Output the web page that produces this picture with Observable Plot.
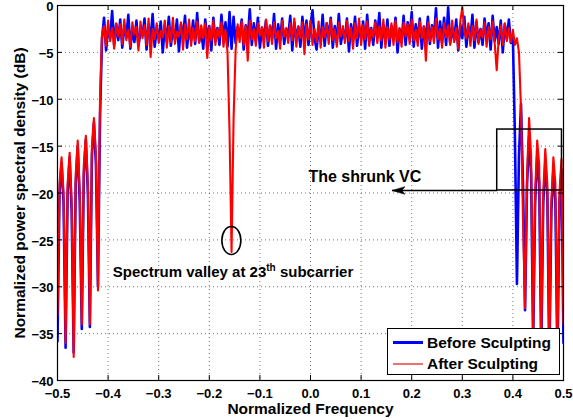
<!DOCTYPE html>
<html><head><meta charset="utf-8">
<script src="https://cdn.jsdelivr.net/npm/d3@7"></script>
<script src="https://cdn.jsdelivr.net/npm/@observablehq/plot@0.6"></script>
<style>
body{margin:0;background:#fff;}
#wrap{position:relative;width:573px;height:420px;font-family:"Liberation Sans",Arial,Helvetica,sans-serif;font-weight:bold;}
.legend{position:absolute;left:387px;top:328px;width:173px;height:47px;border:1px solid #000;background:#fff;box-sizing:border-box;}
.legend .ln{position:absolute;left:5px;width:30px;}
.legend .tx{position:absolute;left:39px;font-size:15.5px;line-height:15px;white-space:nowrap;color:#000;}
</style></head><body><div id="wrap"></div>
<script>
// ---------- data ----------
const xTicks = [-0.5, -0.4, -0.3, -0.2, -0.1, 0, 0.1, 0.2, 0.3, 0.4, 0.5];
const yTicks = [0, -5, -10, -15, -20, -25, -30, -35, -40];
const seriesNames = ["Before Sculpting", "After Sculpting"];

// Before sculpting (blue), sampled every 0.004 from -0.5 to 0.5 (251 points)
const before = [
  -35.8, -20, -16.8, -21, -36.5, -20, -16.2, -22, -37, -19, -15, -21, -34.5, -18, -14.3, -20, -34.3, -16, -12.5, -17, -30, -12, -3.5,
  -1.3, -4.8, -2.5, -3.4, -0.6, -4.2, -2.0, -3.7, -1.5, -4.5,
  -2.3, -3.3, -1.0, -4.6, -2.4, -3.9, -1.6, -4.3, -2.8, -3.2,
  -1.4, -4.7, -2.1, -3.6, -0.9, -4.4, -2.6, -3.5, -1.7, -5.0,
  -2.2, -3.8, -1.2, -4.3, -2.5, -3.6, -1.5, -4.9, -2.0, -3.4,
  -1.1, -4.5, -2.4, -3.7, -1.6, -4.1, -0.8, -3.9, -2.6, -4.6,
  -1.5, -3.5, -2.2, -4.8, -1.3, -3.8, -2.4, -4.2, -1.0, -3.6,
  -1.8, -4.4, -0.7, -4.6, -1.2, -4.0, -2.3, -3.3, -1.5, -4.7,
  -2.1, -3.6, -0.4, -4.2, -1.9, -3.8, -1.3, -4.5, -2.4, -3.4,
  -1.6, -4.3, -2.2, -3.5, -0.9, -4.6, -2.0, -3.7, -1.4, -4.1,
  -2.5, -3.3, -1.1, -4.8, -1.8, -3.6, -2.3, -4.4, -1.2, -3.9,
  -1.6, -4.2, -2.1, -0.5, -3.5, -4.7, -2.4, -3.8, -1.0, -4.3,
  -1.9, -3.4, -1.3, -4.5, -2.2, -3.9, -0.9, -4.1, -2.6, -3.6,
  -1.4, -4.9, -2.0, -3.7, -1.2, -4.3, -2.3, -3.5, -1.7, -4.6,
  -1.0, -3.8, -2.4, -4.2, -1.6, -3.4, -0.8, -4.5, -2.1, -3.7,
  -1.5, -4.3, -2.2, -3.6, -1.3, -5.0, -2.5, -3.9, -1.1, -4.2,
  -1.8, -3.5, -0.7, -4.4, -2.0, -3.8, -1.4, -4.6, -2.3, -3.6,
  -1.2, -4.1, -2.1, -3.4, -0.3, -4.5, -1.7, -3.9, -1.3, -4.2,
  -0.2, -4.0, -2.4, -3.7, -1.5, -4.8, -2.0, -3.5, -1.2, -4.4,
  -2.2, -3.6, -1.0, -4.5, -1.8, -3.9, -2.5, -4.2, -1.4, -3.5,
  -1.9, -4.7, -1.1, -3.8, -2.3, -4.1, -1.6, -5.0, -2.0, -3.6,
  -1.5, -4.0,
  -3.5, -14, -29.7, -16, -10.5, -19, -32.5, -19, -14, -18, -36, -21, -16, -19, -37, -21, -17, -20, -38, -22, -17.5, -21, -38, -21, -17.5, -36
];

// After sculpting (red), same sampling
const after = [
  -33, -19, -16.2, -20, -36, -19, -15.7, -21, -37.5, -18, -14.4, -20, -34, -17, -13.9, -19, -34, -15, -12, -16, -30.4, -10, -3,
  -2.2, -4.3, -1.6, -3.8, -2.4, -4.6, -1.9, -3.3, -2.0, -4.1,
  -1.5, -3.7, -2.6, -4.4, -1.8, -3.1, -2.3, -4.8, -1.7, -3.5,
  -2.1, -4.2, -1.4, -5.5, -2.5, -3.6, -1.9, -4.0, -2.7, -3.4,
  -1.6, -4.5, -2.2, -3.9, -1.3, -4.1, -2.8, -3.3, -1.8, -4.7,
  -2.0, -3.6, -1.5, -4.3, -2.4, -3.8, -1.7, -4.0, -2.1, -3.5,
  -1.9, -5.6, -2.3, -3.7, -1.6, -4.2, -2.5, -3.4, -1.8, -4.4,
  -2.6, -5.0, -13.5, -26.3, -12.0, -4.8, -2.0, -3.9, -1.7, -4.2,
  -2.2, -5.9, -1.6, -3.6, -2.5, -4.3, -1.9, -3.2, -2.3, -4.5,
  -1.5, -3.8, -2.1, -4.1, -1.8, -3.5, -2.7, -4.6, -1.6, -3.3,
  -2.4, -4.0, -1.9, -3.7, -1.4, -4.4, -2.2, -3.5, -1.8, -5.2,
  -2.0, -3.6, -1.6, -4.2, -2.5, -3.9, -1.7, -4.5, -2.3, -3.4,
  -1.9, -4.1, -1.5, -3.7, -2.6, -4.4, -1.8, -3.3, -2.2, -4.0,
  -1.6, -3.8, -2.4, -4.6, -1.9, -3.5, -1.4, -4.2, -2.1, -3.6,
  -1.7, -4.3, -2.5, -3.4, -1.8, -4.0, -2.2, -3.7, -1.5, -4.5,
  -2.3, -3.6, -1.9, -4.2, -1.6, -3.9, -2.4, -4.4, -1.8, -3.3,
  -2.0, -4.1, -1.5, -3.7, -2.6, -4.3, -1.7, -3.5, -2.2, -5.9,
  -1.8, -3.8, -2.3, -4.0, -1.4, -3.6, -2.5, -4.5, -1.9, -3.4,
  -2.1, -4.2, -1.6, -3.9, -2.4, -4.6, -1.7, -0.2, -2.8, -3.5,
  -1.9, -4.3, -2.2, -3.7, -1.5, -4.1, -2.6, -3.4, -1.8, -4.4,
  -2.3, -3.6, -1.7, -4.0, -6.9, -3.5, -2.1, -4.2, -1.9, -3.8,
  -2.4, -3.9,
  -2.6, -4.2, -3.5, -5.0, -11, -23, -32.3, -18, -12, -16, -35, -20, -14.4, -17, -36, -20, -15.3, -19, -37, -21, -16.2, -19, -37, -20, -16.4, -34
];
const freq = d3.range(before.length).map(i => -0.5 + i * 0.004);

// annotations
const valleyMark = [{x: -0.1564, y: -25.06}];
const valleyLabel = [{x: -0.3906, y: -28.44, text: "Spectrum valley at 23th subcarrier"}];
const vcBox = [{x1: 0.369, x2: 0.497, y1: -19.73, y2: -13.23}];
const vcArrow = [{x1: 0.369, y1: -19.73, x2: 0.161, y2: -19.73}];
const vcLabel = [{x: -0.0041, y: -18.27, text: "The shrunk VC"}];
const xLabel = "Normalized Frequency";
const yLabel = "Normalized power spectral density (dB)";

// ---------- chart ----------
const FONT = '"Liberation Sans", Arial, Helvetica, sans-serif';
const W = 573, H = 420, mL = 57, mR = 10, mT = 5, mB = 40;
const fw = W - mL - mR, fh = H - mT - mB;
const TICK = 5;

const ellipseSymbol = {draw(ctx) {
  const rx = 9.5, ry = 14, k = 0.5523;
  ctx.moveTo(rx, 0);
  ctx.bezierCurveTo(rx, k * ry, k * rx, ry, 0, ry);
  ctx.bezierCurveTo(-k * rx, ry, -rx, k * ry, -rx, 0);
  ctx.bezierCurveTo(-rx, -k * ry, -k * rx, -ry, 0, -ry);
  ctx.bezierCurveTo(k * rx, -ry, rx, -k * ry, rx, 0);
  ctx.closePath();
}};
const arrowHeadSymbol = {draw(ctx) {
  ctx.moveTo(0, 0);
  ctx.lineTo(13, -3.8);
  ctx.lineTo(10, 0);
  ctx.lineTo(13, 3.8);
  ctx.closePath();
}};

const gridStyle = {stroke: "#444", strokeOpacity: 0.9, strokeWidth: 0.8, strokeDasharray: "1,3"};

const chart = Plot.plot({
  width: W, height: H,
  marginLeft: mL, marginRight: mR, marginTop: mT, marginBottom: mB,
  x: {domain: [-0.5, 0.5]},
  y: {domain: [-40, 0]},
  style: {fontFamily: FONT, fontWeight: "bold", background: "#fff", color: "#000"},
  marks: [
    Plot.gridX(xTicks, gridStyle),
    Plot.gridY(yTicks, gridStyle),
    Plot.lineY(before, {x: freq, stroke: "#0000ff", strokeWidth: 2.6, clip: true}),
    Plot.lineY(after, {x: freq, stroke: "#ff0000", strokeWidth: 2.1, clip: true}),
    Plot.ruleX(xTicks, {x: d => d, insetTop: fh - TICK, stroke: "#000"}),
    Plot.ruleX(xTicks, {x: d => d, insetBottom: fh - TICK, stroke: "#000"}),
    Plot.ruleY(yTicks, {y: d => d, insetRight: fw - TICK, stroke: "#000"}),
    Plot.ruleY(yTicks, {y: d => d, insetLeft: fw - TICK, stroke: "#000"}),
    Plot.axisX(xTicks, {tickSize: 0, tickPadding: 8, fontSize: 13, label: null}),
    Plot.axisY(yTicks, {tickSize: 0, tickPadding: 4, fontSize: 13, dy: 1.5, label: null}),
    Plot.frame({stroke: "#000", strokeWidth: 1.2}),
    Plot.dot(valleyMark, {x: "x", y: "y", symbol: ellipseSymbol, r: 1, stroke: "#000", fill: "none", strokeWidth: 1.6}),
    Plot.text(valleyLabel, {x: "x", y: "y", text: "text", textAnchor: "start", fontSize: 15, fontWeight: "bold", fill: "#000"}),
    Plot.rect(vcBox, {x1: "x1", x2: "x2", y1: "y1", y2: "y2", stroke: "#000", fill: "none", strokeWidth: 1.5}),
    Plot.link(vcArrow, {x1: "x1", y1: "y1", x2: "x2", y2: "y2", stroke: "#000", strokeWidth: 1.6}),
    Plot.dot(vcArrow, {x: "x2", y: "y2", symbol: arrowHeadSymbol, r: 1, fill: "#000", stroke: "#000", strokeWidth: 0.5}),
    Plot.text(vcLabel, {x: "x", y: "y", text: "text", textAnchor: "start", fontSize: 16, fontWeight: "bold", fill: "#000"}),
    Plot.text([xLabel], {frameAnchor: "bottom", lineAnchor: "middle", textAnchor: "middle", dy: 29, fontSize: 15.5, fontWeight: "bold", fill: "#000"}),
    Plot.text([yLabel], {frameAnchor: "left", lineAnchor: "middle", textAnchor: "middle", rotate: -90, dx: -37, fontSize: 15.5, fontWeight: "bold", fill: "#000"})
  ]
});

// superscript "th" in the valley label
chart.querySelectorAll("text").forEach(t => {
  if (t.textContent === valleyLabel[0].text) {
    t.textContent = "";
    const ns = "http://www.w3.org/2000/svg";
    const a = document.createElementNS(ns, "tspan"); a.textContent = "Spectrum valley at 23";
    const b = document.createElementNS(ns, "tspan"); b.textContent = "th"; b.setAttribute("dy", "-6"); b.setAttribute("font-size", "10");
    const c = document.createElementNS(ns, "tspan"); c.textContent = " subcarrier"; c.setAttribute("dy", "6");
    t.append(a, b, c);
  }
});

const wrap = document.getElementById("wrap");
wrap.appendChild(chart);

// legend (opaque box inside the axes, as in the original)
const lg = document.createElement("div");
lg.className = "legend";
const colors = ["#0000ff", "#f07070"];
const widths = [3, 2];
const rowY = [13.5, 34.5];
seriesNames.forEach((name, i) => {
  const ln = document.createElement("div");
  ln.className = "ln";
  ln.style.top = (rowY[i] - widths[i] / 2) + "px";
  ln.style.height = widths[i] + "px";
  ln.style.background = colors[i];
  const tx = document.createElement("div");
  tx.className = "tx";
  tx.style.top = (rowY[i] - 8) + "px";
  tx.textContent = name;
  lg.append(ln, tx);
});
wrap.appendChild(lg);
</script>
</body></html>
